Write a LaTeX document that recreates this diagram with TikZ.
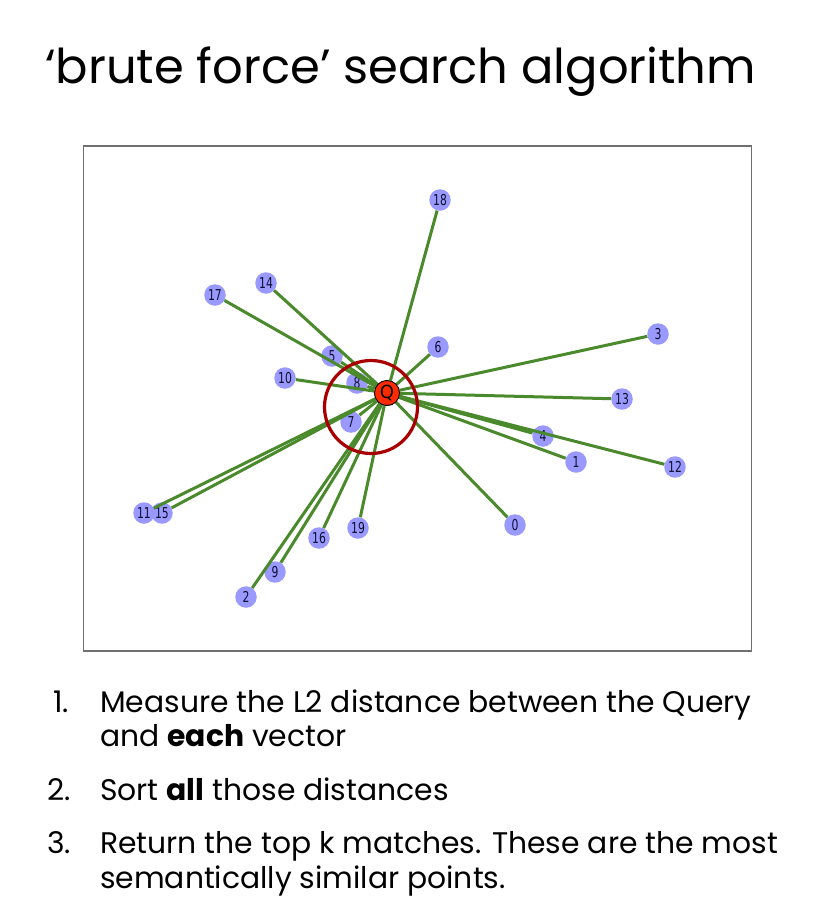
\documentclass[tikz,border=0pt]{standalone}
\usepackage{fontspec}
\setmainfont{Poppins}
\newfontfamily\lblfont{DejaVu Sans}
\usepackage{graphicx}
\definecolor{nodeblue}{HTML}{9999FF}
\definecolor{edgegreen}{HTML}{4A8A2C}
\definecolor{ringred}{HTML}{A80000}
\definecolor{qred}{HTML}{FF2A00}
\definecolor{framegray}{HTML}{707070}
\definecolor{lblink}{HTML}{101030}
\begin{document}
\begin{tikzpicture}[x=1pt,y=-1pt,
  vec/.style={circle,fill=nodeblue,draw=none,minimum size=21.5pt,inner sep=0pt,text=lblink,
    font=\lblfont\fontsize{15}{15}\selectfont},
  qnode/.style={circle,fill=qred,draw=black,line width=0.8pt,minimum size=25pt,inner sep=0pt,
    font=\lblfont\fontsize{18}{18}\selectfont},
  edge/.style={draw=edgegreen,line width=3pt},
  ring/.style={draw=ringred,line width=3.2pt},
  titletext/.style={anchor=base west,inner sep=0pt,font=\fontsize{48}{48}\selectfont},
  listtext/.style={anchor=base west,inner sep=0pt,font=\fontsize{29.8}{29.8}\selectfont}]
\useasboundingbox (0,0) rectangle (826,908);
\fill[white] (0,0) rectangle (826,908);
% title
\node[titletext] (title) at (45,83.5) {‘brute force’ search algorithm};
% frame
\draw[framegray,line width=1.3pt] (83.5,146) rectangle (751.5,651);
% vector nodes
\foreach \n/\x/\y in {0/515/525,1/576/462,2/246/597,3/658/334,4/543/436,5/332/356,
  6/438/347,7/351/422,8/357/383,9/275/572,10/285/378,11/144/513,12/675/467,
  13/622/399,14/266/283,15/162/513,16/319/538,17/215/295,18/440/200,19/358/528}
  \node[vec] (v\n) at (\x,\y) {\scalebox{0.72}[1]{\n}};
% query node
\node[qnode] (q) at (387,393) {Q};
% edges
\foreach \n in {0,...,19}
  \draw[edge] (q) -- (v\n);
\node[qnode] at (q) {Q};
% radius ring
\coordinate (rc) at (371,407);
\draw[ring] (rc) circle[radius=46.5];
% list
\node[listtext] (n1) at (53,712.7) {1.};
\node[listtext] (l1a) at (100,712.7) {Measure the L2 distance between the Query};
\node[listtext] (l1b) at (100,746.7) {and \textbf{each} vector};
\node[listtext] (n2) at (47,800) {2.};
\node[listtext] (l2) at (100,800) {Sort \textbf{all} those distances};
\node[listtext] (n3) at (47,853.3) {3.};
\node[listtext] (l3a) at (100,853.3) {Return the top k matches. These are the most};
\node[listtext] (l3b) at (100,888.3) {semantically similar points.};
\end{tikzpicture}
\end{document}
